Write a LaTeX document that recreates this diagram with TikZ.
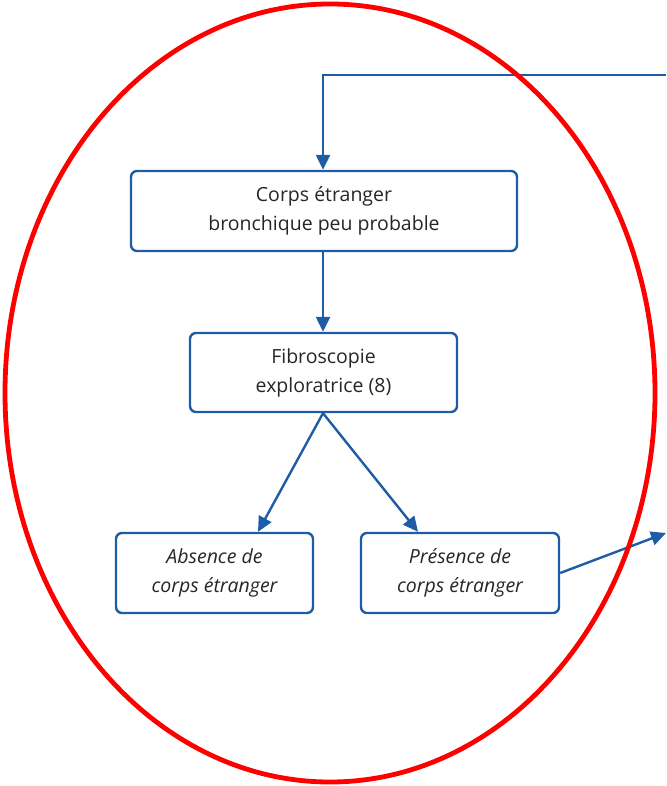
\documentclass[tikz,border=0pt]{standalone}
\usepackage{fontspec}
\setmainfont{Open Sans}
\usetikzlibrary{arrows.meta}
\definecolor{bl}{HTML}{1F5CA6}
\begin{document}
\begin{tikzpicture}[x=1pt,y=-1pt,
  box/.style={draw=bl,line width=2.4pt,rounded corners=6pt,align=center,font=\fontsize{19.5}{29}\selectfont,text=black!85,inner sep=0pt},
  conn/.style={draw=bl,line width=2.4pt,-{Triangle[width=14pt,length=15pt]}}]
\useasboundingbox (0,0) rectangle (666,786);
\node[box,minimum width=386pt,minimum height=80pt] (b1) at (324,211) {Corps étranger\\bronchique peu probable};
\node[box,minimum width=267pt,minimum height=79pt] (b2) at (323.5,372.5) {Fibroscopie\\exploratrice (8)};
\node[box,minimum width=197pt,minimum height=80pt,font=\fontsize{19.5}{29}\selectfont\itshape] (b3) at (214.5,573) {Absence de\\corps étranger};
\node[box,minimum width=198pt,minimum height=80pt,font=\fontsize{19.5}{29}\selectfont\itshape] (b4) at (460,573) {Présence de\\corps étranger};
\coordinate (tr) at (666,75);
\coordinate (tc) at (323,75);
\coordinate (er) at (666,533);
\draw[conn] (tr) -- (tc) -- (b1.north -| tc);
\draw[conn] (b1.south -| tc) -- (b2.north -| tc);
\draw[conn] (b2.south -| tc) -- (b3.north -| 258,0);
\draw[conn] (b2.south -| tc) -- (b4.north -| 418,0);
\draw[conn] (b4.east) -- (er);
\draw[red,line width=4.8pt] (330,393) ellipse [x radius=325, y radius=389];
\end{tikzpicture}
\end{document}
